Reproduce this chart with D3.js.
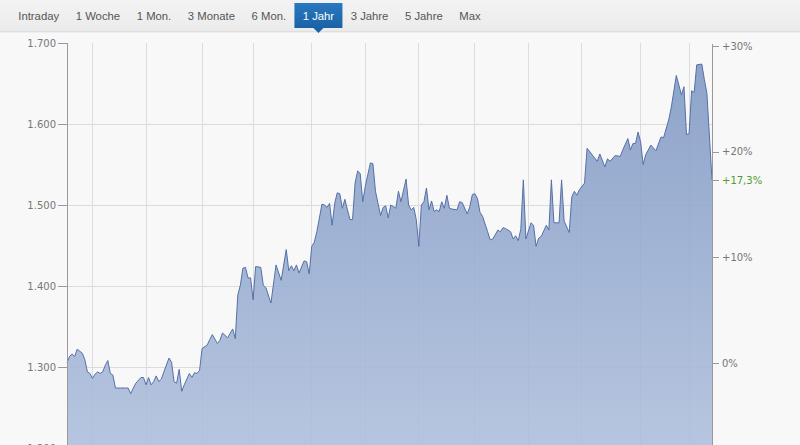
<!DOCTYPE html>
<html>
<head>
<meta charset="utf-8">
<script src="https://cdn.jsdelivr.net/npm/d3@7"></script>
<style>
  body { margin: 0; background: #f8f8f8; overflow: hidden; }
  .axis text { font-family: "DejaVu Sans", Verdana, sans-serif; font-size: 10px; fill: #777; }
  .axis path, .axis line { stroke: #9a9a9a; shape-rendering: crispEdges; }
  .grid line { stroke: #dcdcdc; shape-rendering: crispEdges; }
  .tabs text { font-family: "Liberation Sans", Arial, sans-serif; font-size: 11.3px; fill: #555; }
</style>
</head>
<body>
<div id="chart-area"></div>
<script>
// period tabs
var tabs = ["Intraday", "1 Woche", "1 Mon.", "3 Monate", "6 Mon.", "1 Jahr", "3 Jahre", "5 Jahre", "Max"];
var activeTab = "1 Jahr";

// trading day index and closing price
var days = [0,1,2,3,4,6,7,8,9,10,11,12,13,14,15,16,17,18,19,21,23,24,25,26,27,29,30,31,32,33,34,35,36,37,38,
  40,41,42,43,44,45,46,48,49,50,51,52,53,55,56,57,59,60,61,63,65,66,67,68,69,70,71,72,73,74,76,77,78,80,82,84,
  86,87,88,89,90,91,93,94,95,96,97,98,100,101,102,103,104,105,106,107,108,109,110,111,112,113,114,115,116,117,
  119,120,121,122,123,124,125,126,127,129,130,131,133,134,135,136,137,138,139,140,141,142,143,144,145,146,147,
  148,149,150,151,153,154,155,157,158,159,160,161,162,163,165,166,167,169,170,171,172,174,175,176,177,178,179,
  180,182,183,184,185,186,188,189,190,191,193,194,195,197,198,199,200,201,203,204,206,208,209,211,212,213,215,
  217,218,220,221,222,223,224,225,226,227,229,231,233,234,236,237,239,241,242,243,244,245,246,247,249,250,251,253];
var prices = [1305,1313,1316,1313,1322,1317,1309,1294,1292,1286,1291,1294,1292,1294,1302,1308,1292,1290,1274,1274,
  1274,1274,1267,1274,1280,1287,1287,1278,1287,1278,1282,1289,1282,1285,1294,
  1311,1306,1282,1280,1297,1270,1278,1292,1287,1293,1292,1296,1323,1327,1334,1340,1329,1333,1342,1336,1347,1335,
  1389,1401,1422,1423,1410,1410,1383,1424,1423,1401,1398,1379,1426,1407,
  1445,1419,1425,1419,1426,1416,1431,1430,1415,1449,1454,1467,1501,1500,1497,1502,1475,1502,1515,1514,1496,1507,
  1494,1482,1482,1527,1542,1539,1504,1523,
  1552,1551,1517,1502,1487,1497,1499,1484,1500,1496,1517,1504,1532,1500,1494,1497,1482,1449,1500,1504,1521,1494,
  1505,1492,1494,1492,1504,
  1496,1512,1496,1495,1494,1504,1503,1489,1498,1513,1514,1508,1491,1486,1467,1457,1458,1469,1467,1472,1471,1467,
  1458,1462,1456,1470,1531,
  1458,1478,1475,1449,1459,1461,1475,1469,1531,1478,1478,1531,1480,1466,1510,1517,1512,1519,1527,1570,1562,1554,
  1563,1547,1557,1554,1561,
  1560,1568,1582,1568,1576,1576,1590,1578,1550,1562,1574,1567,1584,1583,1605,1620,1660,1636,1646,1587,1588,1641,
  1639,1673,1674,1655,1638,1531];

// first trading day of each month (vertical grid)
var monthStarts = [10, 31, 53, 73, 96, 117, 138, 160, 181, 202, 225, 244];
var priceTicks = [1200, 1300, 1400, 1500, 1600, 1700];
var pctTicks = [0, 0.1, 0.2, 0.3];

var width = 800, height = 445;
var margin = { left: 67, right: 88, top: 43, bottom: -3 };
var plotW = width - margin.left - margin.right,
    plotH = height - margin.top - margin.bottom;

var de = d3.formatLocale({ decimal: ",", thousands: ".", grouping: [3], currency: ["", " €"] });
var fmtPrice = de.format(",.0f");
var fmtPct = function(d) {
    var s = Math.abs(d * 100) < 0.05 ? "0" : de.format(".0f")(d * 100);
    return (d > 0.0005 ? "+" : "") + s + "%";
};

var svg = d3.select("#chart-area")
    .append("svg")
        .attr("width", width)
        .attr("height", height);

var defs = svg.append("defs");
var barGrad = defs.append("linearGradient")
    .attr("id", "bar-grad").attr("x1", 0).attr("y1", 0).attr("x2", 0).attr("y2", 1);
barGrad.append("stop").attr("offset", "0%").attr("stop-color", "#f3f3f3");
barGrad.append("stop").attr("offset", "100%").attr("stop-color", "#ebebeb");

var tabGrad = defs.append("linearGradient")
    .attr("id", "tab-grad").attr("x1", 0).attr("y1", 0).attr("x2", 0).attr("y2", 1);
tabGrad.append("stop").attr("offset", "0%").attr("stop-color", "#2a78be");
tabGrad.append("stop").attr("offset", "100%").attr("stop-color", "#1a62a6");

var areaGrad = defs.append("linearGradient")
    .attr("id", "area-grad").attr("gradientUnits", "userSpaceOnUse")
    .attr("x1", 0).attr("y1", 0).attr("x2", 0).attr("y2", plotH);
areaGrad.append("stop").attr("offset", "0%").attr("stop-color", "#7f98c4").attr("stop-opacity", 0.9);
areaGrad.append("stop").attr("offset", "100%").attr("stop-color", "#aebfdc").attr("stop-opacity", 0.88);

// tab bar
var bar = svg.append("g").attr("class", "tabs");
bar.append("rect")
    .attr("width", width).attr("height", 31)
    .attr("fill", "url(#bar-grad)");
bar.append("line")
    .attr("x1", 0).attr("x2", width).attr("y1", 31.5).attr("y2", 31.5)
    .attr("stroke", "#dedede");
bar.append("line")
    .attr("x1", 0).attr("x2", width).attr("y1", 32.5).attr("y2", 32.5)
    .attr("stroke", "#eeeeee");

var tabX = 10;
tabs.forEach(function(label) {
    var tab = bar.append("g").attr("transform", "translate(" + tabX + ",0)");
    var bg = tab.append("rect").attr("y", 3).attr("height", 25);
    var txt = tab.append("text")
        .attr("x", 8.3).attr("y", 20)
        .text(label);
    var w = txt.node().getComputedTextLength() + 16.6;
    bg.attr("width", w).attr("fill", "none");
    if (label === activeTab) {
        bg.attr("fill", "url(#tab-grad)");
        txt.style("fill", "#fff");
        tab.append("path")
            .attr("d", "M" + (w / 2 - 5) + ",28L" + (w / 2 + 5) + ",28L" + (w / 2) + ",33Z")
            .attr("fill", "#1a62a6");
    }
    tabX += w;
});

var g = svg.append("g")
    .attr("transform", "translate(" + margin.left + "," + margin.top + ")");

var x = d3.scaleLinear()
    .domain([0, d3.max(days)])
    .range([0, plotW]);

var y = d3.scaleLinear()
    .domain([1200, 1700])
    .range([plotH, 0]);

var base = prices[0];
var yPct = d3.scaleLinear()
    .domain([1200 / base - 1, 1700 / base - 1])
    .range([plotH, 0]);

// grid
var grid = g.append("g").attr("class", "grid");
grid.selectAll(".v").data(monthStarts).enter()
    .append("line")
        .attr("x1", function(d) { return x(d); })
        .attr("x2", function(d) { return x(d); })
        .attr("y1", 0).attr("y2", plotH);
grid.selectAll(".h").data(priceTicks.filter(function(d) { return d < 1700; })).enter()
    .append("line")
        .attr("x1", 0).attr("x2", plotW)
        .attr("y1", function(d) { return y(d); })
        .attr("y2", function(d) { return y(d); });

var series = days.map(function(d, i) { return { day: d, price: prices[i] }; });

var area = d3.area()
    .x(function(d) { return x(d.day); })
    .y0(plotH)
    .y1(function(d) { return y(d.price); });

var line = d3.line()
    .x(function(d) { return x(d.day); })
    .y(function(d) { return y(d.price); });

g.append("path")
    .datum(series)
    .attr("d", area)
    .attr("fill", "url(#area-grad)");

g.append("path")
    .datum(series)
    .attr("d", line)
    .attr("fill", "none")
    .attr("stroke", "#5670a6")
    .attr("stroke-width", 1)
    .attr("stroke-linejoin", "round");

// Y axis (price)
var yAxisCall = d3.axisLeft(y)
    .tickValues(priceTicks)
    .tickSize(9)
    .tickPadding(2)
    .tickFormat(fmtPrice);
g.append("g")
    .attr("class", "axis")
    .call(yAxisCall);

// right axis (change vs. start)
var last = prices[prices.length - 1];
var lastPct = last / base - 1;
var pctAxisCall = d3.axisRight(yPct)
    .tickValues(pctTicks.concat([lastPct]))
    .tickSize(7)
    .tickSizeOuter(0)
    .tickPadding(3)
    .tickFormat(function(d) {
        return d === lastPct ? "+" + de.format(".1f")(d * 100) + "%" : fmtPct(d);
    });
var pctAxis = g.append("g")
    .attr("class", "axis")
    .attr("transform", "translate(" + plotW + ",0)")
    .call(pctAxisCall);
pctAxis.selectAll(".tick text")
    .filter(function(d) { return d === lastPct; })
    .style("fill", "#4f9a2c");
</script>
</body>
</html>
